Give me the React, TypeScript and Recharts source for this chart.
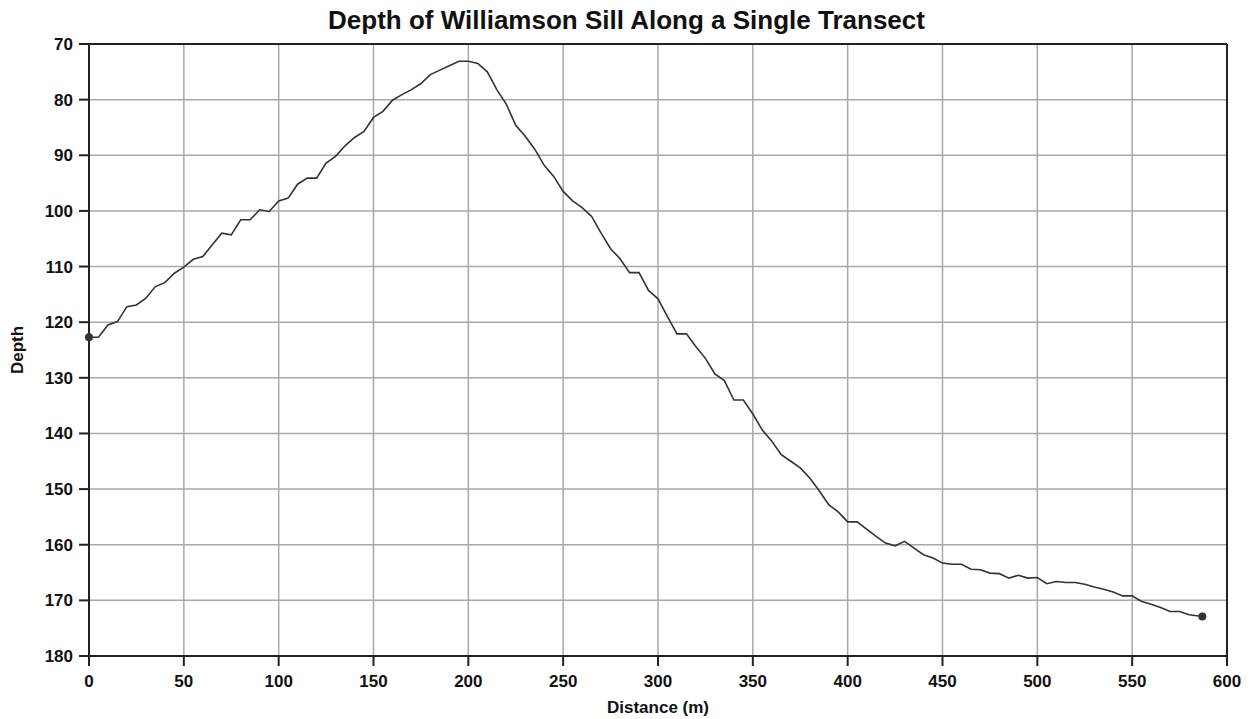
import { CartesianGrid, Label, Line, LineChart, ReferenceLine, XAxis, YAxis } from "recharts"

// distance along the transect (m), every 5 m, last reading at 587 m
const distance = [
  0, 5, 10, 15, 20, 25, 30, 35, 40, 45, 50, 55, 60, 65, 70, 75, 80, 85, 90, 95,
  100, 105, 110, 115, 120, 125, 130, 135, 140, 145, 150, 155, 160, 165, 170, 175, 180, 185, 190, 195,
  200, 205, 210, 215, 220, 225, 230, 235, 240, 245, 250, 255, 260, 265, 270, 275, 280, 285, 290, 295,
  300, 305, 310, 315, 320, 325, 330, 335, 340, 345, 350, 355, 360, 365, 370, 375, 380, 385, 390, 395,
  400, 405, 410, 415, 420, 425, 430, 435, 440, 445, 450, 455, 460, 465, 470, 475, 480, 485, 490, 495,
  500, 505, 510, 515, 520, 525, 530, 535, 540, 545, 550, 555, 560, 565, 570, 575, 580, 587,
]

// depth of the sill at each distance
const depth = [
  122.7, 122.7, 120.5, 119.9, 117.2, 116.9, 115.7, 113.6, 112.9, 111.2, 110.1, 108.7, 108.2, 106.1, 104.0, 104.3, 101.6, 101.6, 99.8, 100.1,
  98.2, 97.7, 95.2, 94.1, 94.1, 91.4, 90.2, 88.3, 86.8, 85.7, 83.2, 82.1, 80.1, 79.1, 78.2, 77.1, 75.5, 74.7, 73.9, 73.1,
  73.1, 73.5, 75.0, 78.2, 80.8, 84.6, 86.6, 88.9, 91.8, 93.8, 96.5, 98.2, 99.4, 101.0, 104.0, 106.8, 108.6, 111.1, 111.1, 114.3,
  115.8, 119.0, 122.1, 122.1, 124.4, 126.5, 129.3, 130.5, 134.0, 134.0, 136.5, 139.4, 141.4, 143.8, 145.0, 146.2, 148.0, 150.3, 152.8, 154.1,
  155.9, 155.9, 157.2, 158.5, 159.7, 160.2, 159.4, 160.6, 161.8, 162.4, 163.3, 163.5, 163.5, 164.4, 164.5, 165.1, 165.2, 166.0, 165.5, 166.0,
  165.9, 167.0, 166.6, 166.8, 166.8, 167.1, 167.6, 168.0, 168.5, 169.2, 169.2, 170.2, 170.7, 171.3, 172.0, 172.0, 172.6, 172.9,
]

const xTicks = [0, 50, 100, 150, 200, 250, 300, 350, 400, 450, 500, 550, 600]
const yTicks = [70, 80, 90, 100, 110, 120, 130, 140, 150, 160, 170, 180]

const data = distance.map((d, i) => ({ distance: d, depth: depth[i] }))

const font = "'Liberation Sans', Arial, sans-serif"
const tickStyle = { fontSize: 17, fontWeight: "bold", fill: "#111", fontFamily: font }

const endDot = (props: any) => {
  const { cx, cy, index } = props
  if (index === 0 || index === data.length - 1) {
    return <circle key={index} cx={cx} cy={cy} r={4} fill="#333" />
  }
  return <g key={index} />
}

export default function App() {
  return (
    <div style={{ position: "absolute", left: 0, top: 0, width: 1253, height: 719, background: "#fff", fontFamily: font }}>
      <div
        style={{
          position: "absolute",
          top: 5,
          left: 0,
          width: 1253,
          textAlign: "center",
          fontSize: 26,
          fontWeight: "bold",
          color: "#111",
        }}
      >
        Depth of Williamson Sill Along a Single Transect
      </div>
      <LineChart width={1253} height={719} data={data} margin={{ top: 44, right: 26, bottom: 0, left: 0 }}>
        <CartesianGrid stroke="#a8a8a8" strokeWidth={1.5} />
        <XAxis
          dataKey="distance"
          type="number"
          domain={[0, 600]}
          ticks={xTicks}
          height={63}
          tick={tickStyle}
          tickSize={10}
          tickMargin={9}
          stroke="#222"
          strokeWidth={2}
        >
          <Label
            value="Distance (m)"
            position="insideBottom"
            offset={6}
            style={{ fontSize: 17, fontWeight: "bold", fill: "#111", fontFamily: font }}
          />
        </XAxis>
        <YAxis
          dataKey="depth"
          type="number"
          domain={[70, 180]}
          ticks={yTicks}
          reversed
          width={89}
          tick={tickStyle}
          tickSize={10}
          tickMargin={6}
          stroke="#222"
          strokeWidth={2}
        >
          <Label
            value="Depth"
            angle={-90}
            position="insideLeft"
            offset={17}
            style={{ textAnchor: "middle", fontSize: 17, fontWeight: "bold", fill: "#111", fontFamily: font }}
          />
        </YAxis>
        <ReferenceLine y={70} stroke="#222" strokeWidth={2} />
        <ReferenceLine x={600} stroke="#222" strokeWidth={2} />
        <Line
          dataKey="depth"
          type="linear"
          stroke="#333"
          strokeWidth={1.6}
          dot={endDot}
          activeDot={false}
          isAnimationActive={false}
        />
      </LineChart>
    </div>
  )
}
